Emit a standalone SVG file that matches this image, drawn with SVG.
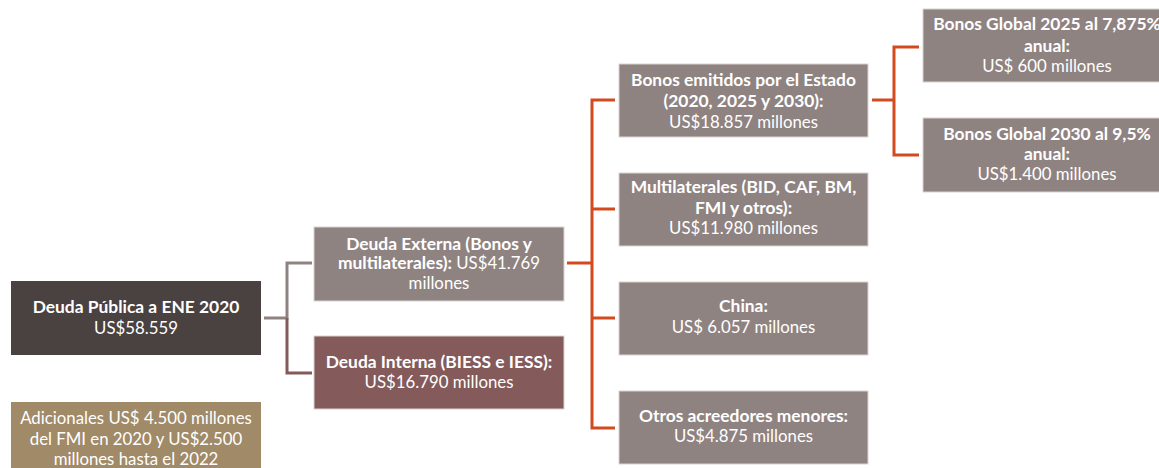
<svg xmlns="http://www.w3.org/2000/svg" width="1159" height="468" viewBox="0 0 1159 468">
<style>
.box{fill:#8f8381;stroke:#d9d4d2;stroke-width:1}
.t{font-family:Lato,"Liberation Sans",sans-serif;font-size:16.8px;fill:#ffffff;text-anchor:middle}
.b{font-weight:bold;font-size:17.4px}
.og{fill:none;stroke:#d24a1e;stroke-width:3}
.gr{fill:none;stroke:#8f8381;stroke-width:3}
.mr{fill:none;stroke:#845a5a;stroke-width:3}
</style>
<rect width="1159" height="468" fill="#ffffff"/>
<g id="connectors">
<path class="gr" d="M264 318H287V263H312"/>
<path class="mr" d="M287 318V373H312"/>
<path class="og" d="M567 263H592M615 100H592V428H615M592 209H615M592 318H615"/>
<path class="og" d="M872 100H894M919 47H894V155H919"/>
</g>
<g id="root">
<rect x="11" y="281" width="250" height="74" fill="#4a4141"/>
<text class="t b" x="136" y="313">Deuda Pública a ENE 2020</text>
<text class="t" x="136" y="334">US$58.559</text>
</g>
<g id="note">
<rect x="11" y="402" width="250" height="70" fill="#a08a68"/>
<text class="t" x="136" y="424">Adicionales US$ 4.500 millones</text>
<text class="t" x="136" y="445">del FMI en 2020 y US$2.500</text>
<text class="t" x="136" y="465">millones hasta el 2022</text>
</g>
<g id="externa">
<rect class="box" x="314" y="227" width="250" height="74"/>
<text class="t b" x="439" y="250">Deuda Externa (Bonos y</text>
<text class="t" x="439" y="269"><tspan class="b">multilaterales):</tspan> US$41.769</text>
<text class="t" x="439" y="289">millones</text>
</g>
<g id="interna">
<rect x="314" y="336" width="250" height="73" fill="#845a5a" stroke="#d9d4d2" stroke-width="1"/>
<text class="t b" x="439" y="368">Deuda Interna (BIESS e IESS):</text>
<text class="t" x="439" y="388">US$16.790 millones</text>
</g>
<g id="bonos">
<rect class="box" x="619" y="64" width="249" height="73"/>
<text class="t b" x="743.5" y="85.5">Bonos emitidos por el Estado</text>
<text class="t b" x="743.5" y="106.5">(2020, 2025 y 2030):</text>
<text class="t" x="743.5" y="127.5">US$18.857 millones</text>
</g>
<g id="multilaterales">
<rect class="box" x="619" y="173" width="249" height="73"/>
<text class="t b" x="743.5" y="193">Multilaterales (BID, CAF, BM,</text>
<text class="t b" x="743.5" y="214">FMI y otros):</text>
<text class="t" x="743.5" y="234">US$11.980 millones</text>
</g>
<g id="china">
<rect class="box" x="619" y="282" width="249" height="73"/>
<text class="t b" x="743.5" y="312">China:</text>
<text class="t" x="743.5" y="333">US$ 6.057 millones</text>
</g>
<g id="otros">
<rect class="box" x="619" y="391" width="249" height="73"/>
<text class="t b" x="743.5" y="422">Otros acreedores menores:</text>
<text class="t" x="743.5" y="442">US$4.875 millones</text>
</g>
<g id="global2025">
<rect class="box" x="923" y="9" width="250" height="73"/>
<text class="t b" x="1047" y="30">Bonos Global 2025 al 7,875%</text>
<text class="t b" x="1047" y="52">anual:</text>
<text class="t" x="1047" y="72">US$ 600 millones</text>
</g>
<g id="global2030">
<rect class="box" x="923" y="118" width="250" height="74"/>
<text class="t b" x="1047" y="140">Bonos Global 2030 al 9,5%</text>
<text class="t b" x="1047" y="160">anual:</text>
<text class="t" x="1047" y="180">US$1.400 millones</text>
</g>
</svg>
